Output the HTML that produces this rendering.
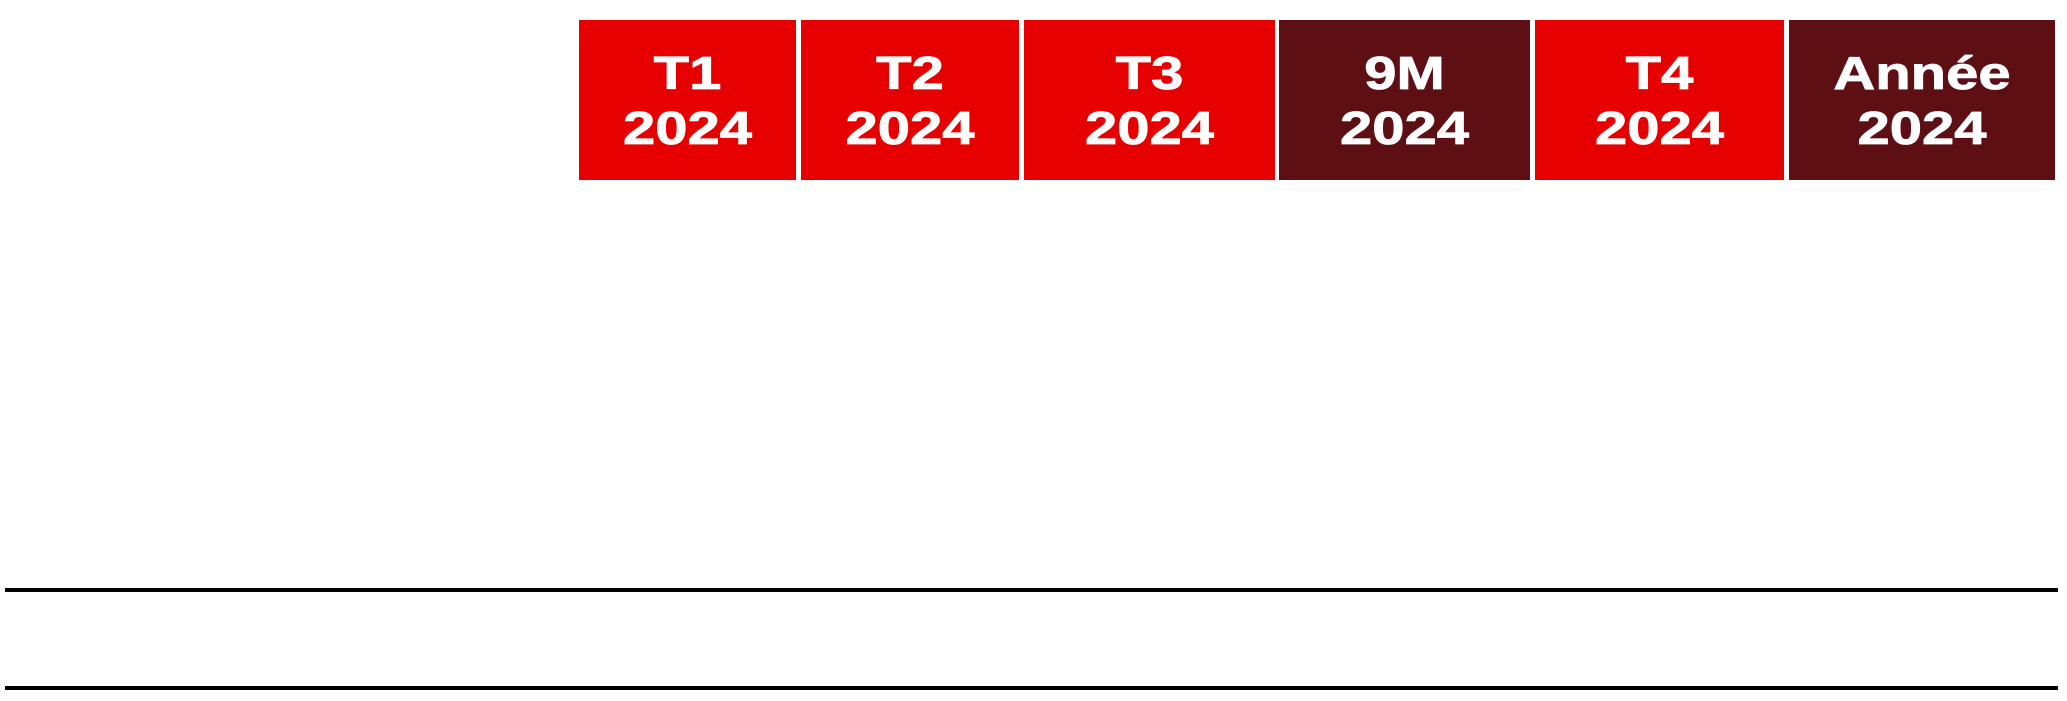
<!DOCTYPE html>
<html><head><meta charset="utf-8"><style>
html,body{margin:0;padding:0;background:#fff;width:2067px;height:701px;overflow:hidden;position:relative}
.b{position:absolute;top:20px;height:160px}
.r{background:#e60000}.d{background:#5e0f14}
.t{position:absolute;left:0;right:0;text-align:center;color:#fff;font-family:"Liberation Sans",Arial,sans-serif;font-weight:bold;font-size:46px;line-height:46px;transform:scaleX(1.26);-webkit-text-stroke:0.8px #fff}
.l1{top:30px}.l2{top:85px}
.h{position:absolute;left:5px;width:2053px;height:4px;background:#000}
</style></head><body>
<div class="b r" style="left:579px;width:217px"><div class="t l1">T1</div><div class="t l2">2024</div></div>
<div class="b r" style="left:801px;width:218px"><div class="t l1">T2</div><div class="t l2">2024</div></div>
<div class="b r" style="left:1024px;width:251px"><div class="t l1">T3</div><div class="t l2">2024</div></div>
<div class="b d" style="left:1279px;width:251px"><div class="t l1">9M</div><div class="t l2">2024</div></div>
<div class="b r" style="left:1535px;width:249px"><div class="t l1">T4</div><div class="t l2">2024</div></div>
<div class="b d" style="left:1789px;width:266px"><div class="t l1">Année</div><div class="t l2">2024</div></div>
<div class="h" style="top:588px"></div>
<div class="h" style="top:686px"></div>
</body></html>
